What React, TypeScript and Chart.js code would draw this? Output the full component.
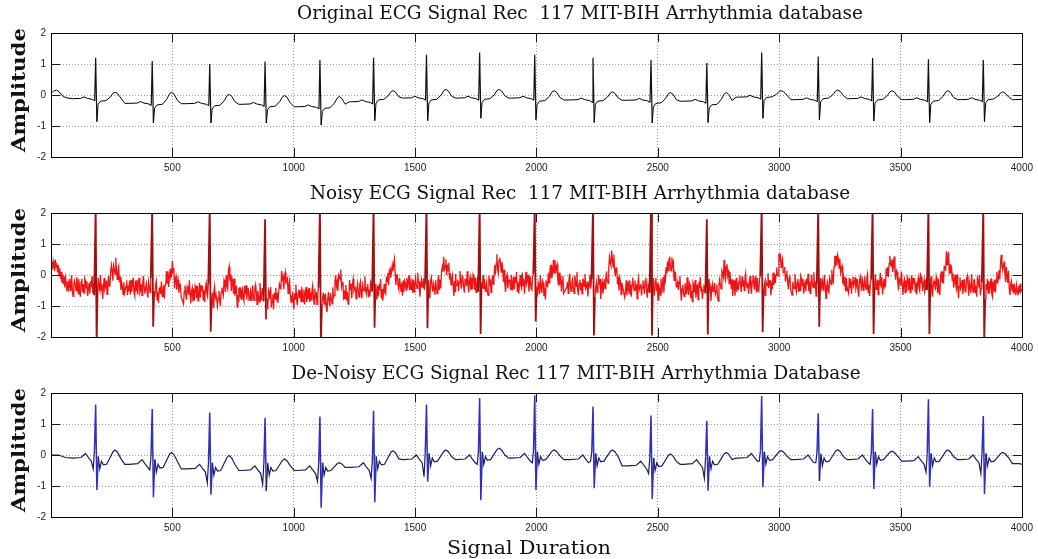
import React, { useEffect, useRef } from "react";
import { Chart, registerables } from "chart.js";

Chart.register(...registerables);

// ---------- data ----------
const xTickValues = [500, 1000, 1500, 2000, 2500, 3000, 3500, 4000];
const yTickValues = [-2, -1, 0, 1, 2];

// R-peak sample positions (shared by all three records)
const beatPos = [184, 417, 654, 882, 1108, 1329, 1547, 1766, 1993, 2233, 2472, 2702, 2928, 3161, 3385, 3615, 3841];

// Original record
const origR = [1.2, 1.1, 1.0, 1.08, 1.13, 1.2, 1.3, 1.37, 1.3, 1.2, 1.13, 1.03, 1.37, 1.24, 1.19, 1.15, 1.13];
const origS = [-0.86, -0.9, -0.9, -0.9, -0.97, -0.83, -0.83, -0.75, -0.8, -0.89, -0.9, -0.89, -0.75, -0.8, -0.84, -0.89, -0.86];
const origPre = [-0.12, -0.27, -0.28, -0.3, -0.38, -0.22, -0.1, -0.1, -0.1, -0.16, -0.17, -0.2, -0.07, -0.15, -0.12, -0.15, -0.15];
const origPost = [-0.2, -0.32, -0.35, -0.38, -0.43, -0.16, -0.16, -0.14, -0.2, -0.2, -0.27, -0.32, -0.08, -0.12, -0.16, -0.2, -0.15];
const origT = [0.09, 0.09, 0.02, -0.02, -0.05, 0.14, 0.18, 0.18, 0.14, 0.1, 0.08, 0.08, 0.14, 0.16, 0.14, 0.14, 0.1];
const origLead = [[0, 0.05], [10, 0.12], [22, 0.16], [34, 0.1], [50, -0.05], [70, -0.1]];
const origTail = [[3975, -0.15], [4000, -0.14]];
// beat waveform keypoints: [offset from R, reference level, value]
const origShape = [
  [-95, "pre", 0], [-62, "pre", 0.01], [-48, "pre", 0.06], [-34, "pre", 0.01], [-14, "pre", -0.02], [-4, "pre", -0.07],
  [0, "R", 0], [5, "S", 0], [10, "post", -0.1], [20, "post", 0], [42, "post", 0.02],
  [60, "T", 0.45], [72, "T", 0.9], [80, "T", 1], [90, "T", 0.85], [104, "T", 0.35], [120, "next", 0],
];

// Noisy record
const noisyR = [2.2, 2.2, 2.2, 1.8, 2.2, 2.2, 2.2, 2.2, 2.2, 2.2, 2.2, 1.8, 2.2, 2.2, 2.2, 2.2, 2.2];
const noisyS = [-2.2, -1.67, -1.83, -1.43, -2.2, -1.7, -1.72, -1.9, -1.5, -1.95, -1.95, -1.92, -1.85, -1.67, -1.9, -1.9, -2.1];
const noisyPre = [-0.35, -0.4, -0.55, -0.6, -0.65, -0.45, -0.3, -0.25, -0.25, -0.3, -0.4, -0.45, -0.3, -0.3, -0.3, -0.3, -0.35];
const noisyPost = [-0.4, -0.5, -0.7, -0.75, -0.8, -0.5, -0.4, -0.35, -0.4, -0.4, -0.4, -0.5, -0.3, -0.35, -0.3, -0.35, -0.4];
const noisyT = [0.28, 0.12, 0.0, -0.05, -0.05, 0.3, 0.4, 0.45, 0.35, 0.55, 0.45, 0.25, 0.45, 0.55, 0.45, 0.5, 0.35];
const noisyTFrac = [0.05, 0.12, 0.2, 0.3, 0.4, 0.5, 0.6, 0.7, 0.8, 0.9, 0.96, 1, 0.96, 0.88, 0.78, 0.66, 0.54, 0.42, 0.32, 0.22, 0.14, 0.08, 0.04, 0.02, 0];
const noisyJitter = [0.15, -0.22, 0.06, 0.27, -0.12, -0.3, 0.1, 0.21, -0.06, -0.25, 0.18, 0.03, -0.17, 0.3, -0.1, -0.27, 0.12, 0.23, -0.2, 0.05, -0.31, 0.16, 0.08, -0.15, 0.25, -0.23, 0.0, 0.19, -0.29, 0.11, -0.08, 0.27, -0.18, 0.13, -0.25, 0.03, 0.21, -0.11, -0.21, 0.29, -0.03, 0.17, -0.3, 0.07, 0.24, -0.13, -0.03];
const noisyDrift = [0.07, -0.04, 0.1, -0.08, 0.0, 0.08, -0.1, 0.04, -0.05, 0.11, -0.07];
const noisyLead = [0.25, 0.42, 0.18, 0.45, 0.3, 0.12, 0.5, 0.25, 0.38, 0.08, 0.32, -0.02, 0.22, -0.12, 0.1, -0.25, 0.02, -0.3, -0.05, -0.4, -0.1, -0.28, -0.5, -0.2, -0.42];
const noisyTail = [-0.3, -0.6, -0.28, -0.52, -0.65, -0.32, -0.5, -0.66, -0.36, -0.58, -0.28, -0.52, -0.45];
const noisyStep = 3;

// De-noised record
const denR = [1.63, 1.48, 1.37, 1.19, 1.24, 1.43, 1.63, 1.84, 1.93, 1.56, 1.27, 1.1, 1.9, 1.35, 1.48, 1.8, 1.26];
const denS = [-1.13, -1.36, -1.28, -1.15, -1.7, -1.52, -0.86, -1.46, -1.13, -1.07, -1.42, -1.15, -1.04, -0.84, -1.1, -1.02, -1.26];
const denQ = [-0.45, -0.48, -0.9, -0.95, -0.85, -0.76, -0.7, -0.3, -0.25, -0.2, -0.6, -0.76, -0.2, -0.25, -0.3, -0.55, -0.6];
const denPre = [-0.1, -0.3, -0.45, -0.5, -0.5, -0.4, -0.15, -0.15, -0.1, -0.15, -0.35, -0.3, -0.1, -0.15, -0.15, -0.2, -0.15];
const denPost = [-0.3, -0.4, -0.5, -0.5, -0.5, -0.3, -0.2, -0.15, -0.15, -0.2, -0.35, -0.3, -0.15, -0.2, -0.15, -0.2, -0.2];
const denT = [0.16, 0.08, -0.02, -0.13, -0.25, 0.14, 0.16, 0.22, 0.16, 0.16, 0.03, 0.08, 0.14, 0.17, 0.12, 0.16, 0.08];
const denLead = [[0, 0.0], [30, 0.0], [60, -0.08]];
const denTail = [[3990, -0.28], [4000, -0.3]];
const denShape = [
  [-95, "pre", 0], [-60, "pre", 0.02], [-42, "pre", 0.15], [-30, "pre", 0.02], [-18, "pre", -0.1], [-10, "Q", 0], [-5, "pre", 0.25],
  [0, "R", 0], [5, "S", 0], [11, "post", 0.25], [17, "post", -0.15], [24, "post", 0.1], [32, "post", -0.02], [45, "post", 0],
  [60, "T", 0.5], [72, "T", 0.9], [80, "T", 1], [90, "T", 0.85], [104, "T", 0.4], [120, "next", 0],
];

const titles = [
  "Original ECG Signal Rec  117 MIT-BIH Arrhythmia database",
  "Noisy ECG Signal Rec  117 MIT-BIH Arrhythmia database",
  "De-Noisy ECG Signal Rec 117 MIT-BIH Arrhythmia Database",
];
const yTitle = "Amplitude";
const xTitle = "Signal Duration";

// ---------- series assembly ----------
type Pt = { x: number; y: number };

function makePusher(pts: Pt[]) {
  let lastX = -Infinity;
  return (x: number, y: number) => {
    if (x > lastX && x >= 0 && x <= 4000) {
      pts.push({ x, y });
      lastX = x;
    }
  };
}

function buildClean(lead: number[][], shape: any[], v: any, tail: number[][]): Pt[] {
  const pts: Pt[] = [];
  const push = makePusher(pts);
  lead.forEach(([x, y]) => push(x, y));
  beatPos.forEach((p, i) => {
    shape.forEach(([off, kind, val]: [number, string, number]) => {
      let y = 0;
      if (kind === "pre") y = v.pre[i] + val;
      else if (kind === "post") y = v.post[i] + val;
      else if (kind === "T") y = v.post[i] + val * (v.t[i] - v.post[i]);
      else if (kind === "R") y = v.r[i];
      else if (kind === "S") y = v.s[i];
      else if (kind === "Q") y = v.q[i];
      else if (kind === "next") y = i + 1 < beatPos.length ? v.pre[i + 1] : tail[0][1];
      push(p + off, y);
    });
  });
  tail.forEach(([x, y]) => push(x, y));
  return pts;
}

function buildNoisy(): Pt[] {
  const pts: Pt[] = [];
  const push = makePusher(pts);
  let k = 0;
  const j = () => {
    const v = noisyJitter[k % noisyJitter.length] + noisyDrift[Math.floor(k / 4) % noisyDrift.length];
    k++;
    return v;
  };
  noisyLead.forEach((y, idx) => push(idx * noisyStep, y));
  beatPos.forEach((p, i) => {
    for (let o = -108; o <= -6; o += noisyStep) push(p + o, noisyPre[i] + j());
    push(p, noisyR[i]);
    push(p + 4, noisyS[i]);
    for (let o = 8; o <= 44; o += noisyStep) push(p + o, noisyPost[i] + j());
    noisyTFrac.forEach((f, idx) => push(p + 47 + idx * noisyStep, noisyPost[i] + f * (noisyT[i] - noisyPost[i]) + j()));
  });
  noisyTail.forEach((y, idx) => push(3963 + idx * noisyStep, y));
  return pts;
}

const origPoints = buildClean(origLead, origShape, { pre: origPre, post: origPost, t: origT, r: origR, s: origS }, origTail);
const noisyPoints = buildNoisy();
const denPoints = buildClean(denLead, denShape, { pre: denPre, post: denPost, t: denT, r: denR, s: denS, q: denQ }, denTail);

// ---------- drawing helpers ----------
const SERIF = "'DejaVu Serif', 'Liberation Serif', serif";
const TICK_FONT = { family: "'Liberation Sans', 'DejaVu Sans', sans-serif", size: 10 };

function drawFitted(ctx: CanvasRenderingContext2D, text: string, cx: number, cy: number, font: string, targetW: number, rot: number) {
  ctx.save();
  ctx.font = font;
  const w = ctx.measureText(text).width;
  ctx.translate(cx, cy);
  if (rot) ctx.rotate(rot);
  ctx.scale(targetW / w, 1);
  ctx.textAlign = "center";
  ctx.textBaseline = "middle";
  ctx.fillStyle = "#111";
  ctx.fillText(text, 0, 0);
  ctx.restore();
}

const decorPlugin = {
  id: "ecgDecor",
  afterDraw(chart: any, _args: any, opts: any) {
    const { ctx, chartArea: a, scales } = chart;
    const xs = scales.x;
    const ys = scales.y;
    ctx.save();
    ctx.strokeStyle = "#1a1a1a";
    ctx.lineWidth = 1;
    ctx.beginPath();
    xs.ticks.forEach((t: any) => {
      const px = Math.round(xs.getPixelForValue(t.value)) + 0.5;
      ctx.moveTo(px, a.bottom);
      ctx.lineTo(px, a.bottom - 9);
      ctx.moveTo(px, a.top);
      ctx.lineTo(px, a.top + 9);
    });
    ys.ticks.forEach((t: any) => {
      const py = Math.round(ys.getPixelForValue(t.value)) + 0.5;
      ctx.moveTo(a.left, py);
      ctx.lineTo(a.left + 9, py);
      ctx.moveTo(a.right, py);
      ctx.lineTo(a.right - 9, py);
    });
    ctx.stroke();
    ctx.strokeStyle = "#000";
    ctx.strokeRect(Math.round(a.left) + 0.5, Math.round(a.top) + 0.5, Math.round(a.right - a.left), Math.round(a.bottom - a.top));
    ctx.restore();

    drawFitted(ctx, opts.title, opts.titleX, a.top - 19, `19px ${SERIF}`, opts.titleW, 0);
    drawFitted(ctx, yTitle, 20, (a.top + a.bottom) / 2 - 5, `bold 19px ${SERIF}`, 124, -Math.PI / 2);
    if (opts.xlabel) drawFitted(ctx, opts.xlabel, 529, a.bottom + 32, `19px ${SERIF}`, 164, 0);
  },
};

type PanelProps = {
  points: Pt[]; color: string; steepColor: string; width: number; steepWidth: number; title: string; titleX: number; titleW: number;
  top: number; height: number; xlabel?: string;
};

function Panel(props: PanelProps) {
  const ref = useRef<HTMLCanvasElement | null>(null);
  useEffect(() => {
    if (!ref.current) return;
    const chartAreaBottom = 157;
    const steep = (c: any) => Math.abs(c.p1.parsed.y - c.p0.parsed.y) > 0.9;
    const chart = new Chart(ref.current, {
      type: "line",
      data: {
        datasets: [
          {
            data: props.points as any,
            borderColor: props.color,
            borderWidth: props.width,
            pointRadius: 0,
            tension: 0,
            fill: false,
            segment: {
              borderColor: (c: any) => (steep(c) ? props.steepColor : undefined),
              borderWidth: (c: any) => (steep(c) ? props.steepWidth : undefined),
            },
          } as any,
        ],
      },
      options: {
        animation: false,
        responsive: false,
        events: [],
        parsing: false as any,
        normalized: true,
        layout: { padding: { top: 33, right: 13, left: 0, bottom: 0 } },
        plugins: {
          legend: { display: false },
          tooltip: { enabled: false },
          title: { display: false },
          ecgDecor: { title: props.title, titleX: props.titleX, titleW: props.titleW, xlabel: props.xlabel },
        } as any,
        scales: {
          x: {
            type: "linear",
            min: 0,
            max: 4000,
            afterBuildTicks: (s: any) => {
              s.ticks = xTickValues.map((v) => ({ value: v }));
            },
            afterFit: (s: any) => {
              s.height = props.height - chartAreaBottom;
            },
            ticks: { font: TICK_FONT, color: "#222", padding: 5, maxRotation: 0, autoSkip: false, callback: (v: any) => String(v) },
            grid: {
              color: (c: any) => (c.tick && c.tick.value >= 4000 ? "rgba(0,0,0,0)" : "#9a9a9a"),
              lineWidth: 1,
              drawTicks: false,
            },
            border: { display: false, dash: [1, 2] },
          },
          y: {
            type: "linear",
            min: -2,
            max: 2,
            afterBuildTicks: (s: any) => {
              s.ticks = yTickValues.map((v) => ({ value: v }));
            },
            afterFit: (s: any) => {
              s.width = 51;
            },
            ticks: { font: TICK_FONT, color: "#222", padding: 5, callback: (v: any) => String(v) },
            grid: {
              color: (c: any) => (c.tick && Math.abs(c.tick.value) >= 2 ? "rgba(0,0,0,0)" : "#9a9a9a"),
              lineWidth: 1,
              drawTicks: false,
            },
            border: { display: false, dash: [1, 2] },
          },
        },
      },
      plugins: [decorPlugin as any],
    });
    return () => chart.destroy();
  }, []);
  return (
    <canvas
      ref={ref}
      width={1038}
      height={props.height}
      style={{ position: "absolute", left: 0, top: props.top, width: 1038, height: props.height }}
    />
  );
}

export default function App() {
  return (
    <div style={{ position: "absolute", left: 0, top: 0, width: 1038, height: 559, background: "#fff", overflow: "hidden" }}>
      <Panel points={origPoints} color="#000000" steepColor="#111111" width={1} steepWidth={1.2} title={titles[0]} titleX={580} titleW={566} top={0} height={180} />
      <Panel points={noisyPoints} color="#f01414" steepColor="#a01010" width={1.3} steepWidth={1.8} title={titles[1]} titleX={580} titleW={540} top={180} height={180} />
      <Panel points={denPoints} color="#1c1c5e" steepColor="#3030c0" width={1.2} steepWidth={1.5} title={titles[2]} titleX={576} titleW={569} top={360} height={199} xlabel={xTitle} />
    </div>
  );
}
